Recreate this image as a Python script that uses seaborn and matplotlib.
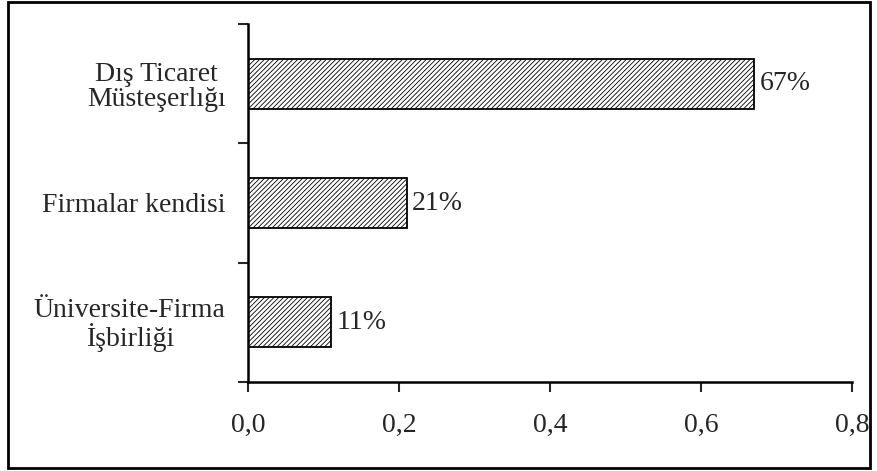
import matplotlib
matplotlib.use("Agg")
import matplotlib.pyplot as plt
import seaborn as sns
import pandas as pd
from matplotlib.patches import Rectangle
from matplotlib.ticker import FixedLocator

categories = ["Dış Ticaret\nMüsteşerlığı", "Firmalar kendisi", "Üniversite-Firma\nİşbirliği"]
values = [0.67, 0.21, 0.11]
value_labels = ["67%", "21%", "11%"]
xticks = [0.0, 0.2, 0.4, 0.6, 0.8]
xtick_labels = ["0,0", "0,2", "0,4", "0,6", "0,8"]

sns.set_style("white")
plt.rcParams['font.family'] = ['Liberation Serif', 'DejaVu Serif']
plt.rcParams['hatch.linewidth'] = 0.6

df = pd.DataFrame({"cat": categories, "val": values})

fig = plt.figure(figsize=(8.78, 4.71), dpi=100)
ax = fig.add_axes([248/878, 1-382/471, (852-248)/878, (382-24)/471])

sns.barplot(data=df, x="val", y="cat", orient="h", ax=ax, color="white",
            edgecolor="black", linewidth=1.3, width=0.42, hatch="///////")
for p in ax.patches:
    p.set_hatch("///////")
    p.set_edgecolor("black")

ax.bar_label(ax.containers[0], labels=value_labels, padding=4, fontsize=20)

ax.set_xlim(0, 0.8)
ax.set_ylim(2.5, -0.5)
ax.set_xticks(xticks)
ax.set_xticklabels(xtick_labels, fontsize=20)
ax.set_xlabel("")
ax.set_ylabel("")

ax.yaxis.set_major_locator(FixedLocator([-0.5, 0.5, 1.5, 2.5]))
ax.set_yticklabels([])
ax.yaxis.set_minor_locator(FixedLocator([0, 1, 2]))
ax.set_yticklabels(categories, minor=True, fontsize=20, multialignment="center",
                   ha="right", linespacing=1.0)
ax.tick_params(axis="y", which="minor", length=0, pad=16)
ax.tick_params(axis="y", which="major", length=7, width=1.5, direction="out", left=True)
ax.tick_params(axis="x", which="major", length=7, width=1.5, direction="out", bottom=True, pad=15)

for s in ["top", "right"]:
    ax.spines[s].set_visible(False)
for s in ["left", "bottom"]:
    ax.spines[s].set_visible(True)
    ax.spines[s].set_color("black")
    ax.spines[s].set_linewidth(1.8)

fig.patches.append(Rectangle((8/878, 1-468/471), (870-8)/878, (468-2)/471,
                             transform=fig.transFigure, fill=False,
                             edgecolor="black", linewidth=2))

fig.savefig("out.png", dpi=100)
